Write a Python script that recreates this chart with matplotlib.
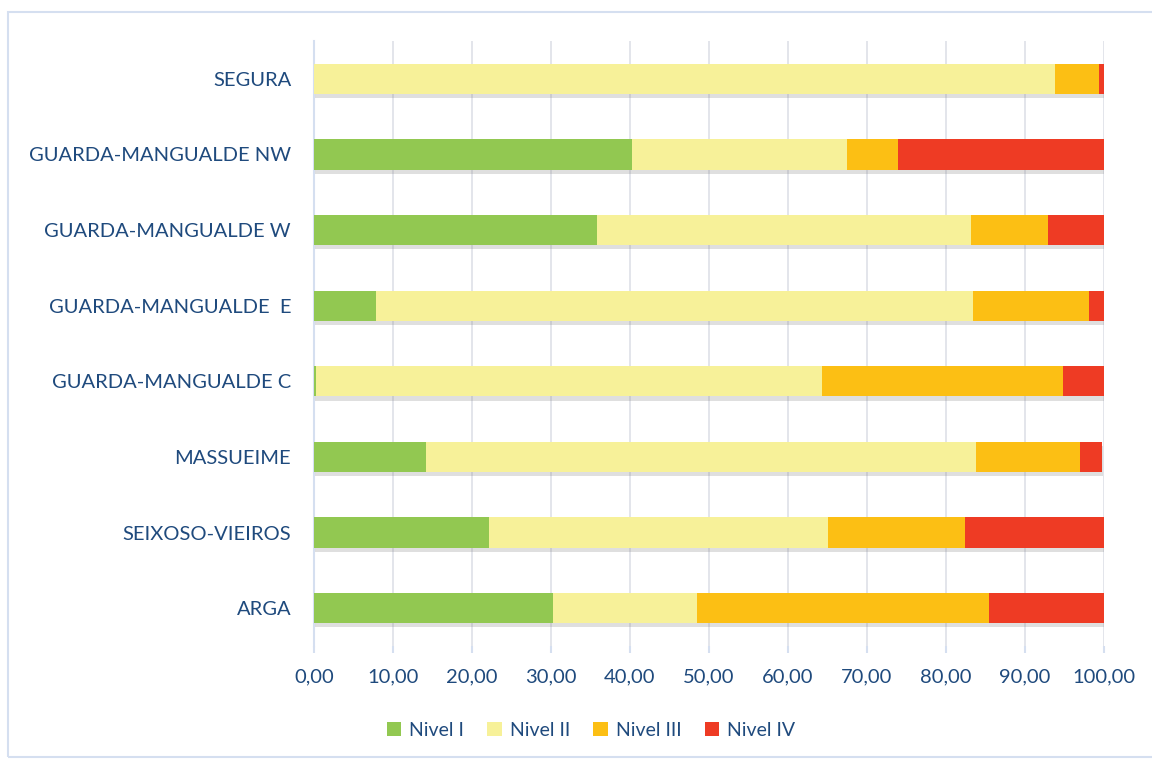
import matplotlib
matplotlib.use("Agg")
import matplotlib.pyplot as plt
import matplotlib.patheffects as pe
from matplotlib.patches import Rectangle
from matplotlib.ticker import FuncFormatter, MultipleLocator
import numpy as np

# data (bottom to top, as drawn)
zonas = [
    "ARGA",
    "SEIXOSO-VIEIROS",
    "MASSUEIME",
    "GUARDA-MANGUALDE C",
    "GUARDA-MANGUALDE  E",
    "GUARDA-MANGUALDE W",
    "GUARDA-MANGUALDE NW",
    "SEGURA",
]
nivel_1 = [30.3, 22.1, 14.2, 0.2, 7.8, 35.9, 40.3, 0.0]
nivel_2 = [18.2, 43.0, 69.7, 64.1, 75.7, 47.3, 27.2, 93.8]
nivel_3 = [37.0, 17.4, 13.1, 30.5, 14.7, 9.7, 6.4, 5.6]
nivel_4 = [14.5, 17.5, 2.8, 5.2, 1.8, 7.1, 26.1, 0.6]

series_names = ["Nivel I", "Nivel II", "Nivel III", "Nivel IV"]
colors = ["#92c851", "#f7f199", "#fcbf14", "#ee3b24"]

TEXT_COLOR = "#1f4a7d"
LINE_COLOR = "#d5dff0"

plt.rcParams["font.family"] = ["Lato", "DejaVu Sans"]

fig = plt.figure(figsize=(11.52, 7.6), dpi=100)
ax = fig.add_axes([0.2726, 0.15, 0.6854, 0.796])

y = np.arange(len(zonas))
left = np.zeros(len(zonas))
all_bars = []
for vals, name, col in zip([nivel_1, nivel_2, nivel_3, nivel_4], series_names, colors):
    vals = np.array(vals)
    bars = ax.barh(y, vals, left=left, height=0.4, color=col, label=name, zorder=3)
    all_bars.extend(bars)
    left += vals

ax.set_xlim(0, 100)
ax.set_ylim(-0.5, len(zonas) - 0.5)
ax.xaxis.set_major_locator(MultipleLocator(10))
ax.xaxis.set_major_formatter(FuncFormatter(lambda v, p: f"{v:.2f}".replace(".", ",")))
ax.set_yticks(y)
ax.set_yticklabels(zonas)

ax.grid(axis="x", color="#e0e3e9", linewidth=1.3, zorder=0)
ax.set_axisbelow(True)
for s in ["top", "right", "bottom"]:
    ax.spines[s].set_visible(False)
ax.spines["left"].set_color(LINE_COLOR)
ax.spines["left"].set_linewidth(1.5)

ax.tick_params(axis="y", length=0, pad=16.5, labelsize=14.5, labelcolor=TEXT_COLOR)
ax.tick_params(axis="x", length=5, width=1.5, color=LINE_COLOR, pad=11,
               labelsize=14.5, labelcolor=TEXT_COLOR)

fig.legend(loc="center", bbox_to_anchor=(0.513, 0.039), ncol=4, frameon=False,
           fontsize=14, labelcolor=TEXT_COLOR, handlelength=0.75, handleheight=0.75,
           handletextpad=0.4, columnspacing=1.2)

# soft drop shadow under the bars (added after the legend so handles stay flat)
shadow = [pe.SimplePatchShadow(offset=(1, -3), shadow_rgbFace="#808080", alpha=0.25),
          pe.Normal()]
for b in all_bars:
    b.set_path_effects(shadow)

# outer chart border
fig.patches.append(Rectangle((8 / 1152, 0.004), 1.2, 1 - 12 / 760 - 0.004,
                             transform=fig.transFigure, fill=False,
                             edgecolor=LINE_COLOR, linewidth=1.5))

fig.savefig("out.png", dpi=100)
